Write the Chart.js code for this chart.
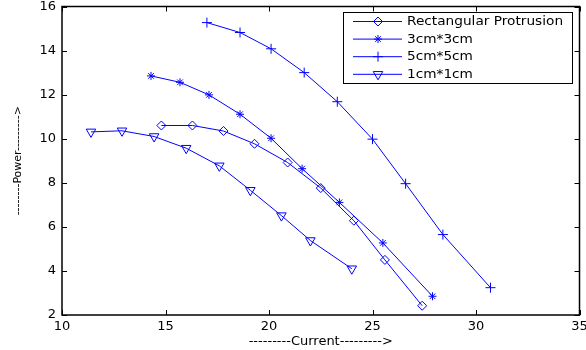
<!DOCTYPE html>
<html>
<head>
<meta charset="utf-8">
<script src="https://cdn.jsdelivr.net/npm/chart.js@4/dist/chart.umd.min.js"></script>
<style>
  html, body { margin: 0; padding: 0; background: #fff; }
  #wrap { width: 586px; height: 350px; }
</style>
</head>
<body>
<div id="wrap"><canvas id="chart" width="586" height="350"></canvas></div>
<script>
// values
const rectX = [14.8, 16.3, 17.8, 19.3, 20.9, 22.5, 24.1, 25.6, 27.4];
const rectY = [10.6, 10.6, 10.35, 9.77, 8.92, 7.76, 6.28, 4.5, 2.42];

const cm3X = [14.3, 15.7, 17.1, 18.6, 20.1, 21.6, 23.4, 25.5, 27.9];
const cm3Y = [12.85, 12.56, 11.99, 11.11, 10.02, 8.64, 7.11, 5.27, 2.85];

const cm5X = [17.0, 18.6, 20.1, 21.7, 23.3, 25.0, 26.6, 28.4, 30.7];
const cm5Y = [15.27, 14.82, 14.08, 13.0, 11.68, 9.98, 7.96, 5.65, 3.24];

const cm1X = [11.4, 12.9, 14.45, 16.0, 17.6, 19.1, 20.6, 22.0, 24.0];
const cm1Y = [10.31, 10.36, 10.1, 9.57, 8.77, 7.66, 6.51, 5.38, 4.1];

const xTicks = [10, 15, 20, 25, 30, 35];
const yTicks = [2, 4, 6, 8, 10, 12, 14, 16];

const labels = ['Rectangular Protrusion', '3cm*3cm', '5cm*5cm', '1cm*1cm'];
const blue = '#0000ff';
const FONT = 'DejaVu Sans';

function pts(xs, ys) {
    return xs.map((x, i) => ({x: x, y: ys[i]}));
}

const styles = [
    {pointStyle: 'rectRot', radius: 4.5, rotation: 0},
    {pointStyle: 'star', radius: 4, rotation: 0},
    {pointStyle: 'cross', radius: 5, rotation: 0},
    {pointStyle: 'triangle', radius: 5.5, rotation: 180},
];

const series = [pts(rectX, rectY), pts(cm3X, cm3Y), pts(cm5X, cm5Y), pts(cm1X, cm1Y)];

const datasets = series.map((d, i) => ({
    label: labels[i],
    data: d,
    showLine: true,
    borderColor: blue,
    borderWidth: 1,
    backgroundColor: 'rgba(0,0,0,0)',
    pointBorderColor: blue,
    pointBackgroundColor: 'rgba(0,0,0,0)',
    pointBorderWidth: 1,
    pointStyle: styles[i].pointStyle,
    pointRadius: styles[i].radius,
    pointRotation: styles[i].rotation,
    tension: 0,
}));

// box, inward ticks and a matlab-like legend
const framePlugin = {
    id: 'frame',
    afterDraw(chart) {
        const ctx = chart.ctx;
        const a = chart.chartArea;
        const xs = chart.scales.x, ys = chart.scales.y;
        ctx.save();
        ctx.strokeStyle = '#000';
        ctx.lineWidth = 1;
        ctx.beginPath();
        xTicks.forEach(v => {
            const px = Math.round(xs.getPixelForValue(v)) + 0.5;
            ctx.moveTo(px, a.bottom); ctx.lineTo(px, a.bottom - 5);
            ctx.moveTo(px, a.top); ctx.lineTo(px, a.top + 5);
        });
        yTicks.forEach(v => {
            const py = Math.round(ys.getPixelForValue(v)) + 0.5;
            ctx.moveTo(a.left, py); ctx.lineTo(a.left + 5, py);
            ctx.moveTo(a.right, py); ctx.lineTo(a.right - 5, py);
        });
        ctx.stroke();
        ctx.lineWidth = 1.5;
        ctx.strokeRect(a.left, a.top, a.right - a.left, a.bottom - a.top);

        // legend
        const lx = 343, ly = 12, lw = 229, lh = 71;
        ctx.fillStyle = '#fff';
        ctx.fillRect(lx, ly, lw, lh);
        ctx.lineWidth = 1;
        ctx.strokeStyle = '#000';
        ctx.strokeRect(lx + 0.5, ly + 0.5, lw, lh);
        ctx.font = '12px "' + FONT + '"';
        ctx.textBaseline = 'middle';
        labels.forEach((t, i) => {
            const y = ly + 9.5 + i * 17.6;
            ctx.strokeStyle = blue;
            ctx.lineWidth = 1;
            ctx.beginPath();
            ctx.moveTo(353, y); ctx.lineTo(402, y);
            ctx.stroke();
            ctx.fillStyle = 'rgba(0,0,0,0)';
            ctx.strokeStyle = blue;
            Chart.helpers.drawPoint(ctx, {
                pointStyle: styles[i].pointStyle,
                radius: styles[i].radius,
                rotation: styles[i].rotation,
                borderWidth: 1
            }, 378, y);
            ctx.fillStyle = '#000';
            ctx.save();
            ctx.translate(407, y + 0.5);
            ctx.scale(1.14, 1);
            ctx.fillText(t, 0, 0);
            ctx.restore();
        });
        ctx.restore();
    }
};

const ctx = document.getElementById('chart').getContext('2d');
const chart = new Chart(ctx, {
    type: 'scatter',
    data: {datasets: datasets},
    options: {
        responsive: false,
        animation: false,
        events: [],
        layout: {padding: {top: 5, right: 3, left: 0, bottom: 0}},
        plugins: {legend: {display: false}, tooltip: {enabled: false}},
        scales: {
            x: {
                type: 'linear',
                min: 10, max: 35,
                afterBuildTicks: s => { s.ticks = xTicks.map(v => ({value: v})); },
                afterFit: s => { s.height = 35; s.paddingLeft = 0; s.paddingRight = 0; },
                grid: {display: false, drawTicks: false},
                border: {display: false},
                ticks: {color: '#000', font: {family: FONT, size: 13}, padding: 4, maxRotation: 0, autoSkip: false},
                title: {display: true, text: '---------Current--------->', color: '#000',
                        font: {family: FONT, size: 13}, padding: {top: 0, bottom: 1}}
            },
            y: {
                type: 'linear',
                min: 2, max: 16,
                afterBuildTicks: s => { s.ticks = yTicks.map(v => ({value: v})); },
                afterFit: s => { s.width = 62; s.paddingTop = 0; s.paddingBottom = 0; },
                grid: {display: false, drawTicks: false},
                border: {display: false},
                ticks: {color: '#000', font: {family: FONT, size: 13}, padding: 6, autoSkip: false},
                title: {display: true, text: '--------Power--------->', color: '#000',
                        font: {family: FONT, size: 11}, padding: {top: 12, bottom: 0}}
            }
        }
    },
    plugins: [framePlugin]
});
</script>
</body>
</html>
